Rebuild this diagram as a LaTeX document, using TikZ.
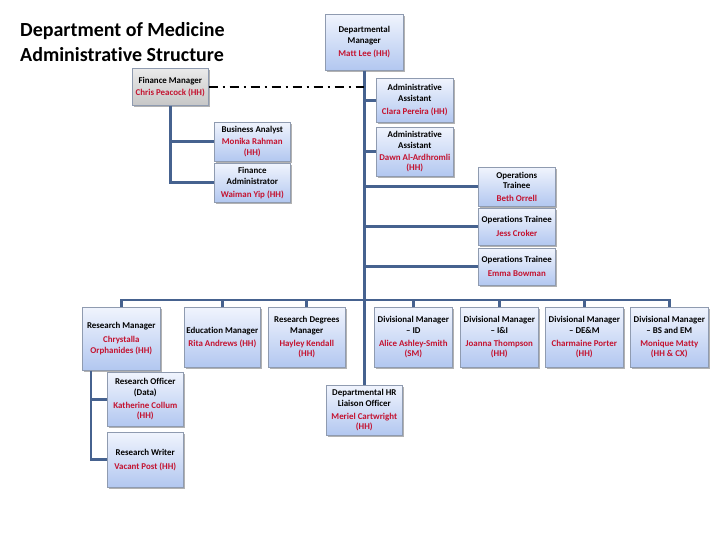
\documentclass[tikz,border=0pt]{standalone}
\usepackage{fontspec}
\setmainfont{Carlito}[Ligatures=NoCommon]
\usetikzlibrary{shadows}
\definecolor{lnc}{HTML}{46628F}
\definecolor{nmc}{HTML}{C4122F}
\definecolor{boxtop}{HTML}{F0F4FD}
\definecolor{boxbot}{HTML}{B2C7F0}
\definecolor{boxline}{HTML}{8F9BB0}
\newcommand{\pname}[1]{\textcolor{nmc}{#1}}
\tikzset{
  orgbox/.style={draw=boxline, line width=0.6pt, top color=boxtop, bottom color=boxbot,
    align=center, font=\bfseries\fontsize{8.9}{10.8}\selectfont, inner xsep=0pt, inner ysep=1pt,
    anchor=north west,
    drop shadow={shadow xshift=1.6pt, shadow yshift=-1.6pt, opacity=0.3, fill=black}},
  graybox/.style={orgbox, top color=white!92!black, bottom color=white!78!black},
  conn/.style={draw=lnc, line width=2.8pt},
  sz/.style 2 args={minimum width=#1pt, minimum height=#2pt},
  titletext/.style={anchor=west, font=\bfseries\fontsize{20}{24}\selectfont, inner sep=0pt},
}
\begin{document}
\begin{tikzpicture}[x=1pt, y=-1pt]
\useasboundingbox (0,0) rectangle (720,540);
\fill[white] (0,0) rectangle (720,540);
% title
\node[titletext] (t1) at (20,31) {Department of Medicine};
\node[titletext] (t2) at (20,55) {Administrative Structure};
\coordinate (bus) at (0,300);
% nodes
\node[orgbox, sz={78}{56}] (dm) at (325,14) {Departmental\\Manager\\[2pt]\pname{Matt Lee (HH)}};
\node[graybox, sz={76}{37}] (fm) at (132,68) {Finance Manager\\[1pt]\pname{Chris Peacock (HH)}};
\node[orgbox, sz={77}{44}] (aa1) at (376,78) {Administrative\\Assistant\\[2pt]\pname{Clara Pereira (HH)}};
\node[orgbox, sz={76}{39}] (ba) at (214,122) {Business Analyst\\[1pt]\pname{Monika Rahman}\\\pname{(HH)}};
\node[orgbox, sz={77}{49}] (aa2) at (376,127) {Administrative\\Assistant\\[1pt]\pname{Dawn Al-Ardhromli}\\\pname{(HH)}};
\node[orgbox, sz={76}{39}] (fa) at (214,163) {Finance\\Administrator\\[2pt]\pname{Waiman Yip (HH)}};
\node[orgbox, sz={77}{39}] (ot1) at (478,167) {Operations\\Trainee\\[2pt]\pname{Beth Orrell}};
\node[orgbox, sz={77}{37}] (ot2) at (478,208) {Operations Trainee\\[3pt]\pname{Jess Croker}};
\node[orgbox, sz={77}{37}] (ot3) at (478,248) {Operations Trainee\\[3pt]\pname{Emma Bowman}};
\node[orgbox, sz={78}{63}] (rm) at (82,307) {Research Manager\\[3pt]\pname{Chrystalla}\\\pname{Orphanides (HH)}};
\node[orgbox, sz={76}{60}] (em) at (184,307) {Education Manager\\[2pt]\pname{Rita Andrews (HH)}};
\node[orgbox, sz={77}{60}] (rdm) at (268,307) {Research Degrees\\Manager\\[2pt]\pname{Hayley Kendall}\\\pname{(HH)}};
\node[orgbox, sz={78}{60}] (d1) at (374,307) {Divisional Manager\\-- ID\\[2pt]\pname{Alice Ashley-Smith}\\\pname{(SM)}};
\node[orgbox, sz={78}{60}] (d2) at (460,307) {Divisional Manager\\-- I\&I\\[2pt]\pname{Joanna Thompson}\\\pname{(HH)}};
\node[orgbox, sz={78}{60}] (d3) at (545,307) {Divisional Manager\\-- DE\&M\\[2pt]\pname{Charmaine Porter}\\\pname{(HH)}};
\node[orgbox, sz={78}{60}] (d4) at (630,307) {Divisional Manager\\-- BS and EM\\[2pt]\pname{Monique Matty}\\\pname{(HH \& CX)}};
\node[orgbox, sz={76}{54}] (ro) at (107,372) {Research Officer\\(Data)\\[2pt]\pname{Katherine Collum}\\\pname{(HH)}};
\node[orgbox, sz={76}{55}] (rw) at (107,432) {Research Writer\\[3pt]\pname{Vacant Post (HH)}};
\node[orgbox, sz={76}{50}] (hr) at (326,385) {Departmental HR\\Liaison Officer\\[2pt]\pname{Meriel Cartwright}\\\pname{(HH)}};
% connectors
\coordinate (rmv) at ([xshift=9pt]rm.south west);
\begin{scope}[conn]
\draw (dm.south) -- (hr.north);
\draw (dm.south |- aa1.west) -- (aa1.west);
\draw (dm.south |- aa2.west) -- (aa2.west);
\draw (dm.south |- ot1.west) -- (ot1.west);
\draw (dm.south |- ot2.west) -- (ot2.west);
\draw (dm.south |- ot3.west) -- (ot3.west);
\draw (fm.south) |- (fa.west);
\draw (fm.south |- ba.west) -- (ba.west);
\draw (rm.north) -- (rm.north |- bus) -- (d4.north |- bus) -- (d4.north);
\draw (em.north) -- (em.north |- bus);
\draw (rdm.north) -- (rdm.north |- bus);
\draw (d1.north) -- (d1.north |- bus);
\draw (d2.north) -- (d2.north |- bus);
\draw (d3.north) -- (d3.north |- bus);
\draw (rmv) |- (rw.west);
\draw (rmv |- ro.west) -- (ro.west);
\end{scope}
\draw[black, line width=1.8pt, dash pattern=on 9pt off 5pt on 2pt off 5pt] (fm.east) -- (fm.east -| dm.south);
\end{tikzpicture}
\end{document}
